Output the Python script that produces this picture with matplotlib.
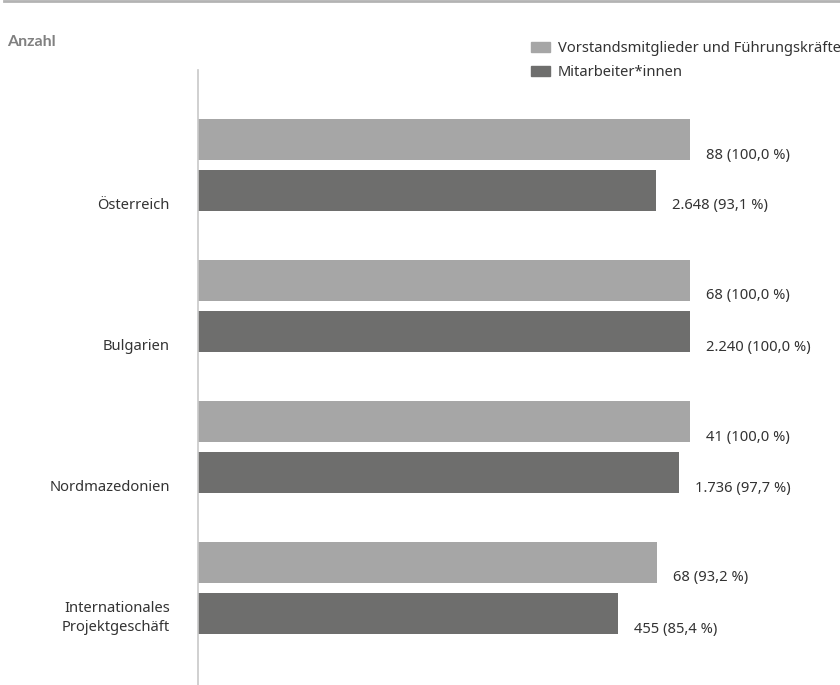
import matplotlib.pyplot as plt
from matplotlib.patches import Rectangle
from matplotlib.lines import Line2D

plt.rcParams['font.family'] = ['Noto Sans', 'DejaVu Sans']

# Daten
regionen = ["Österreich", "Bulgarien", "Nordmazedonien", "Internationales\nProjektgeschäft"]
fuehrung_anzahl = ["88", "68", "41", "68"]
fuehrung_anteil = [100.0, 100.0, 100.0, 93.2]
mitarbeiter_anzahl = ["2.648", "2.240", "1.736", "455"]
mitarbeiter_anteil = [93.1, 100.0, 97.7, 85.4]
serien = ["Vorstandsmitglieder und Führungskräfte", "Mitarbeiter*innen"]

hell = "#a6a6a6"
dunkel = "#6e6e6d"
textfarbe = "#333333"
fs = 10.6

W, H = 840, 685
fig = plt.figure(figsize=(W / 100, H / 100), dpi=100)

# Achse: 0..100 % von x=198 bis x=690, y von 70 bis unten
ax = fig.add_axes([198 / W, 0, (690 - 198) / W, (H - 70) / H])
gruppe = 141.0
ax.set_xlim(0, 100)
ax.set_ylim((H - 165) / gruppe, -(165 - 70) / gruppe)

bh = 41 / gruppe
off = 25.5 / gruppe
px = 100 / 492  # Datenwert pro Pixel in x

def fmt(p):
    return f"{p:.1f}".replace(".", ",") + " %"

for i, reg in enumerate(regionen):
    y1 = i - off
    y2 = i + off
    ax.barh(y1, fuehrung_anteil[i], height=bh, color=hell, zorder=2)
    ax.barh(y2, mitarbeiter_anteil[i], height=bh, color=dunkel, zorder=2)
    ax.text(fuehrung_anteil[i] + 16 * px, y1 + (bh / 2 - 5 / gruppe),
            f"{fuehrung_anzahl[i]} ({fmt(fuehrung_anteil[i])})",
            va="center", ha="left", fontsize=fs, color=textfarbe, clip_on=False)
    ax.text(mitarbeiter_anteil[i] + 16 * px, y2 + (bh / 2 - 5 / gruppe),
            f"{mitarbeiter_anzahl[i]} ({fmt(mitarbeiter_anteil[i])})",
            va="center", ha="left", fontsize=fs, color=textfarbe, clip_on=False)
    dy = 0.215 if "\n" in reg else 0.285
    ax.text(-28 * px, i + dy, reg, va="center", ha="right", fontsize=fs,
            color=textfarbe, linespacing=1.35, clip_on=False)

for s in ["top", "right", "bottom"]:
    ax.spines[s].set_visible(False)
ax.spines["left"].set_color("#c8c8c8")
ax.spines["left"].set_linewidth(1.2)
ax.set_xticks([])
ax.set_yticks([])
ax.patch.set_alpha(0)

# Linie oben und Überschrift
fig.add_artist(Line2D([4 / W, 1], [1 - 1 / H, 1 - 1 / H], color="#b3b3b3", lw=2,
                      transform=fig.transFigure))
fig.text(7 / W, 1 - 42 / H, "Anzahl", fontsize=11.5, color="#808080",
         family=["Lato", "DejaVu Sans"], fontweight="bold", va="center", ha="left")

# Legende
for k, (name, farbe) in enumerate(zip(serien, [hell, dunkel])):
    y_top = 42 + 24 * k
    fig.add_artist(Rectangle((531 / W, 1 - (y_top + 10) / H), 19 / W, 10 / H,
                             color=farbe, transform=fig.transFigure))
    fig.text(558 / W, 1 - (y_top + 6) / H, name, fontsize=fs, color=textfarbe,
             va="center", ha="left")

fig.savefig("out.png", dpi=100)
